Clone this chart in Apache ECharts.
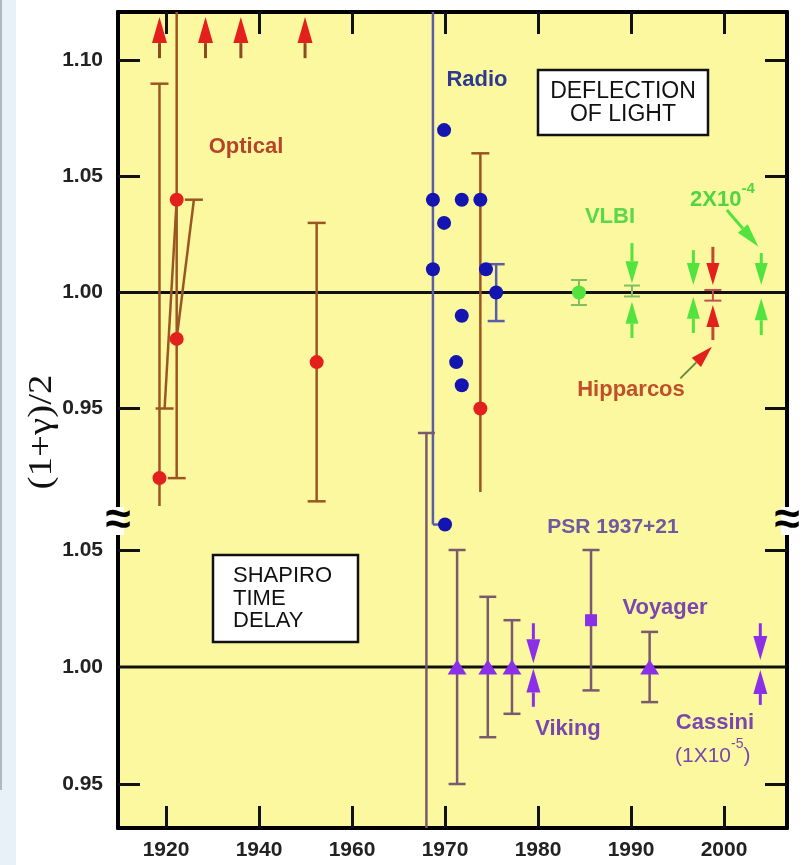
<!DOCTYPE html>
<html><head><meta charset="utf-8">
<script src="https://cdn.jsdelivr.net/npm/echarts@6/dist/echarts.min.js"></script>
<style>html,body{margin:0;padding:0;background:#fff;}#c{width:805px;height:865px;}</style>
</head><body><div id="c"></div>
<script>
// ---------------- DATA ----------------
// x-axis tick years (axis is compressed 2:1 before 1960)
const xTickYears = [1920, 1940, 1960, 1970, 1980, 1990, 2000];
// y tick labels: upper panel (deflection of light) and lower panel (Shapiro delay)
const topTickLabels = [0.95, 1.00, 1.05, 1.10];
const topTickMarks = [0.95, 1.05, 1.10];
const botTickLabels = [0.95, 1.00, 1.05];
const botTickMarks = [0.95, 1.05];

// Optical deflection: [year, value]
const opticalPoints = [[1918.6, 0.92], [1922.3, 1.04], [1922.3, 0.98], [1952.4, 0.97], [1973.8, 0.95]];
// Optical error bars: [year, low, high, capLow, capHigh]
const opticalBars = [[1918.6, 0.908, 1.09, 0, 1], [1922.3, 0.92, 1.13, 1, 0], [1952.4, 0.91, 1.03, 1, 1], [1973.8, 0.914, 1.06, 0, 1]];
// Optical slanted bars: [year1, value1, year2, value2, cap1, cap2]
const opticalSlants = [[1922.3, 1.04, 1919.7, 0.95, 0, 1], [1926.0, 1.04, 1922.3, 0.98, 1, 0]];
// Optical off-scale arrows: [year, tail, tip]
const opticalArrows = [[1918.6, 1.101, 1.1187], [1928.5, 1.101, 1.1187], [1936.1, 1.101, 1.1187], [1949.9, 1.101, 1.1187]];

// Radio deflection: [year, value]
const radioPoints = [[1969.9, 1.07], [1968.7, 1.04], [1971.8, 1.04], [1973.8, 1.04], [1969.9, 1.03], [1968.7, 1.01],
  [1974.4, 1.01], [1975.5, 1.00], [1971.8, 0.99], [1971.2, 0.97], [1971.8, 0.96], [1970.0, 0.90]];
// Radio bars: [year1, value1, year2, value2, cap1, cap2]
const radioBars = [[1968.7, 0.90, 1968.7, 1.13, 0, 0], [1968.7, 0.90, 1970.0, 0.90, 0, 0], [1975.5, 0.9877, 1975.5, 1.0122, 1, 1]];

// VLBI: [year, value]
const vlbiPoints = [[1984.4, 1.00]];
const vlbiBars = [[1984.4, 0.9946, 1.0054, 1, 1], [1990.1, 0.9983, 1.003, 1, 1]];
// VLBI arrows: [year, tail, tip]
const vlbiArrows = [[1990.1, 1.0213, 1.0040], [1990.1, 0.9804, 0.9960], [1996.7, 1.0183, 1.0032], [1996.7, 0.9825, 0.9982],
  [2004.0, 1.0170, 1.0032], [2004.0, 0.9817, 0.9975]];
// Hipparcos
const hipparcosBars = [[1998.8, 0.9965, 1.0011, 1, 1]];
const hipparcosArrows = [[1998.8, 1.0197, 1.0032], [1998.8, 0.9795, 0.9946]];
// annotation pointers: [year1, value1, year2, value2]
const hipparcosPointer = [[1995.3, 0.963, 1998.7, 0.9766]];
const vlbiPointer = [[2000.3, 1.0356, 2003.7, 1.0197]];

// Shapiro time delay (lower panel)
const delayTriangles = [[1971.3, 1.00], [1974.6, 1.00], [1977.2, 1.00], [1992.0, 1.00]];
const psrPoints = [[1985.7, 1.02]];
const delayBars = [[1968.0, 0.90, 1.10, 0, 1], [1971.3, 0.95, 1.05, 1, 1], [1974.6, 0.97, 1.03, 1, 1], [1977.2, 0.98, 1.02, 1, 1],
  [1985.7, 0.99, 1.05, 1, 1], [1992.0, 0.985, 1.015, 1, 1]];
const delayArrows = [[1979.5, 1.0187, 1.0016], [1979.5, 0.9830, 0.9994], [2003.9, 1.0187, 1.0030], [2003.9, 0.9838, 0.9987]];

// ---------------- HELPERS ----------------
const tx = y => y < 1960 ? 1960 + (y - 1960) / 2 : y;     // compressed-axis transform
const itx = v => v < 1960 ? Math.round(1960 + (v - 1960) * 2) : Math.round(v);
const X_MIN = 1934.84, X_MAX = 2006.77;

const barsToSeg = arr => arr.map(([y, lo, hi, cl, ch]) => [tx(y), lo, tx(y), hi, cl, ch]);
const slantsToSeg = arr => arr.map(([y1, v1, y2, v2, c1, c2]) => [tx(y1), v1, tx(y2), v2, c1, c2]);
const arrowsToSeg = arr => arr.map(([y, t, p]) => [tx(y), t, tx(y), p]);
const ptrToSeg = arr => arr.map(([y1, v1, y2, v2]) => [tx(y1), v1, tx(y2), v2]);
const pts = arr => arr.map(([y, v]) => [tx(y), v]);

function segRender(color, lw, capW) {
  return function (params, api) {
    const a = api.coord([api.value(0), api.value(1)]);
    const b = api.coord([api.value(2), api.value(3)]);
    const ch = [{ type: 'line', shape: { x1: a[0], y1: a[1], x2: b[0], y2: b[1] }, style: { stroke: color, lineWidth: lw } }];
    if (api.value(4)) ch.push({ type: 'line', shape: { x1: a[0] - capW / 2, y1: a[1], x2: a[0] + capW / 2, y2: a[1] }, style: { stroke: color, lineWidth: lw } });
    if (api.value(5)) ch.push({ type: 'line', shape: { x1: b[0] - capW / 2, y1: b[1], x2: b[0] + capW / 2, y2: b[1] }, style: { stroke: color, lineWidth: lw } });
    return { type: 'group', children: ch };
  };
}
function arrowRender(color, stemColor, headL, headW, lw) {
  return function (params, api) {
    const a = api.coord([api.value(0), api.value(1)]);
    const b = api.coord([api.value(2), api.value(3)]);
    const dx = b[0] - a[0], dy = b[1] - a[1], len = Math.hypot(dx, dy) || 1;
    const ux = dx / len, uy = dy / len, hl = Math.min(headL, len);
    const bx = b[0] - ux * hl, by = b[1] - uy * hl, px = -uy, py = ux;
    return { type: 'group', children: [
      { type: 'line', shape: { x1: a[0], y1: a[1], x2: bx, y2: by }, style: { stroke: stemColor, lineWidth: lw } },
      { type: 'polygon', shape: { points: [[b[0], b[1]], [bx + px * headW / 2, by + py * headW / 2], [bx - px * headW / 2, by - py * headW / 2]] }, style: { fill: color } }
    ] };
  };
}
function custom(name, data, render, yIdx, z) {
  return { name, type: 'custom', xAxisIndex: 0, yAxisIndex: yIdx, clip: true, z: z || 2, silent: true,
    dimensions: ['x1', 'v1', 'x2', 'v2', 'c1', 'c2'], encode: { x: [0, 2], y: [1, 3] }, renderItem: render, data };
}

// ---------------- COLORS ----------------
const C = {
  bg: '#fcf8a0', optBar: '#9a5622', red: '#e3201b', blue: '#1414b0', blueLine: '#5a5ea6',
  green: '#52e33f', greenBar: '#7fbf5f', purple: '#8b30e6', purpleBar: '#7a5a6c'
};
const F = '"Liberation Sans", Arial, Helvetica, sans-serif';

const chart = echarts.init(document.getElementById('c'), null, { renderer: 'canvas' });

const tickX = xTickYears.map(tx);
function yAx(pos, min, max, labels, marks, showLabel) {
  return {
    type: 'value', position: pos, min, max, splitLine: { show: false },
    axisLine: { show: true, onZero: false, lineStyle: { color: '#000', width: 4 } },
    axisTick: { show: true, inside: true, length: 22, customValues: marks, lineStyle: { color: '#111', width: 3 } },
    axisLabel: { show: showLabel, customValues: labels, margin: 15, fontFamily: F, fontWeight: 'bold', fontSize: 21, color: '#222',
      formatter: v => v.toFixed(2) }
  };
}
function xAx(pos, showLabel) {
  return {
    type: 'value', position: pos, min: X_MIN, max: X_MAX, splitLine: { show: false },
    axisLine: { show: true, onZero: false, lineStyle: { color: '#000', width: 4 } },
    axisTick: { show: true, inside: true, length: 22, customValues: tickX, lineStyle: { color: '#111', width: 3 } },
    axisLabel: { show: showLabel, customValues: tickX, margin: 12, fontFamily: F, fontWeight: 'bold', fontSize: 21, color: '#222',
      formatter: v => String(itx(v)) }
  };
}
const TOP_MIN = 0.7692, TOP_MAX = 1.1209, BOT_MIN = 0.9312, BOT_MAX = 1.2799;

const txt = (x, y, s, color, size, weight) => ({ type: 'text', x, y, z: 100,
  style: { text: s, fill: color, font: `${weight || 'bold'} ${size}px ${F}`, align: 'center', verticalAlign: 'middle' } });
const supTxt = (x, y, base, sup, tail, color, size, weight) => ({ type: 'text', x, y, z: 100,
  style: { text: `{n|${base}}{s|${sup}}{n|${tail}}`, fill: color, align: 'left', verticalAlign: 'middle',
    rich: { n: { fontFamily: F, fontWeight: weight, fontSize: size, lineHeight: size + 8, verticalAlign: 'bottom', fill: color },
            s: { fontFamily: F, fontWeight: weight, fontSize: Math.round(size * 0.68), lineHeight: size + 8, verticalAlign: 'top', fill: color } } } });

const option = {
  backgroundColor: '#ffffff',
  animation: false,
  grid: { left: 118, top: 12, right: 18, bottom: 37, show: true, backgroundColor: C.bg, borderWidth: 0, outerBoundsMode: 'none', containLabel: false },
  xAxis: [xAx('bottom', true), xAx('top', false)],
  yAxis: [
    yAx('left', TOP_MIN, TOP_MAX, topTickLabels, topTickMarks, true),
    yAx('left', BOT_MIN, BOT_MAX, botTickLabels, botTickMarks, true),
    yAx('right', TOP_MIN, TOP_MAX, topTickLabels, topTickMarks, false),
    yAx('right', BOT_MIN, BOT_MAX, botTickLabels, botTickMarks, false)
  ],
  series: [
    { type: 'line', yAxisIndex: 0, data: [[X_MIN, 1.0], [X_MAX, 1.0]], symbol: 'none', lineStyle: { color: '#111', width: 3 }, silent: true, z: 1 },
    { type: 'line', yAxisIndex: 1, data: [[X_MIN, 1.0], [X_MAX, 1.0]], symbol: 'none', lineStyle: { color: '#111', width: 3 }, silent: true, z: 1 },
    custom('radioBars', slantsToSeg(radioBars), segRender(C.blueLine, 2.5, 17), 0),
    custom('opticalBars', barsToSeg(opticalBars).concat(slantsToSeg(opticalSlants)), segRender(C.optBar, 2.5, 18), 0),
    custom('delayBars', barsToSeg(delayBars), segRender(C.purpleBar, 2.5, 17), 1),
    custom('vlbiBars', barsToSeg(vlbiBars), segRender(C.greenBar, 2, 16), 0),
    custom('hipBars', barsToSeg(hipparcosBars), segRender('#c0504a', 2, 17), 0),
    custom('optArrows', arrowsToSeg(opticalArrows), arrowRender(C.red, '#8a4a22', 26, 15, 3), 0),
    custom('vlbiArrows', arrowsToSeg(vlbiArrows), arrowRender(C.green, C.green, 22, 13, 3), 0),
    custom('hipArrows', arrowsToSeg(hipparcosArrows), arrowRender(C.red, '#c04a2a', 22, 13, 3), 0),
    custom('delayArrows', arrowsToSeg(delayArrows), arrowRender(C.purple, C.purple, 24, 14, 3), 1),
    custom('hipPtr', ptrToSeg(hipparcosPointer), arrowRender(C.red, '#6a8a3a', 22, 13, 2), 0),
    custom('vlbiPtr', ptrToSeg(vlbiPointer), arrowRender(C.green, C.green, 24, 13, 3), 0),
    { type: 'scatter', yAxisIndex: 0, data: pts(opticalPoints), symbol: 'circle', symbolSize: 14, itemStyle: { color: C.red, opacity: 1 }, z: 5, silent: true },
    { type: 'scatter', yAxisIndex: 0, data: pts(radioPoints), symbol: 'circle', symbolSize: 14, itemStyle: { color: C.blue, opacity: 1 }, z: 5, silent: true },
    { type: 'scatter', yAxisIndex: 0, data: pts(vlbiPoints), symbol: 'circle', symbolSize: 14, itemStyle: { color: C.green, opacity: 1 }, z: 5, silent: true },
    { type: 'scatter', yAxisIndex: 1, data: pts(delayTriangles), symbol: 'triangle', symbolSize: [19, 15], itemStyle: { color: C.purple, opacity: 1 }, z: 5, silent: true },
    { type: 'scatter', yAxisIndex: 1, data: pts(psrPoints), symbol: 'rect', symbolSize: 12, itemStyle: { color: C.purple, opacity: 1 }, z: 5, silent: true }
  ],
  graphic: [
    { type: 'rect', shape: { x: 0, y: 0, width: 16, height: 865 }, style: { fill: '#e8f0f8' }, z: 0 },
    { type: 'line', shape: { x1: 1, y1: 0, x2: 1, y2: 790 }, style: { stroke: '#b0b8c0', lineWidth: 2 }, z: 0 },
    // axis title
    { type: 'text', x: 42, y: 432, rotation: Math.PI / 2, scaleX: 1.3, scaleY: 1.1, z: 100,
      style: { text: '(1+γ)/2', fill: '#111', font: `30px "Liberation Serif", "DejaVu Serif", serif`, align: 'center', verticalAlign: 'middle' } },
    // axis breaks
    { type: 'rect', shape: { x: 112, y: 507, width: 12, height: 28 }, style: { fill: '#fff' }, z: 99 },
    { type: 'rect', shape: { x: 781, y: 507, width: 12, height: 28 }, style: { fill: '#fff' }, z: 99 },
    txt(118, 521, '≈', '#000', 46),
    txt(787, 521, '≈', '#000', 46),
    // boxes
    { type: 'rect', shape: { x: 538, y: 70, width: 170, height: 65 }, style: { fill: '#fff', stroke: '#111', lineWidth: 2.5 }, z: 90 },
    txt(623, 92, 'DEFLECTION', '#111', 23, '500'),
    txt(623, 115, 'OF LIGHT', '#111', 23, '500'),
    { type: 'rect', shape: { x: 213, y: 555, width: 145, height: 87 }, style: { fill: '#fff', stroke: '#111', lineWidth: 2.5 }, z: 90 },
    { type: 'text', x: 233, y: 565, z: 100, style: { text: 'SHAPIRO\nTIME\nDELAY', fill: '#111', font: `500 22px ${F}`, lineHeight: 22.5, align: 'left', verticalAlign: 'top' } },
    // labels
    txt(246, 147, 'Optical', '#b5452a', 22),
    txt(477, 80, 'Radio', '#2e3a8f', 22),
    txt(610, 217, 'VLBI', '#5ad84a', 22),
    supTxt(690, 196, '2X10', '-4', '', '#4fd63f', 22, 'bold'),
    txt(631, 390, 'Hipparcos', '#c0502a', 22),
    txt(613, 527, 'PSR 1937+21', '#6e5a9e', 21),
    txt(665, 608, 'Voyager', '#7a46b0', 22),
    txt(568, 729, 'Viking', '#7a46b0', 22),
    txt(715, 723, 'Cassini', '#7a46b0', 22),
    supTxt(675, 752, '(1X10', '-5', ')', '#7a46b0', 21, '500')
  ]
};
chart.setOption(option);
</script></body></html>
